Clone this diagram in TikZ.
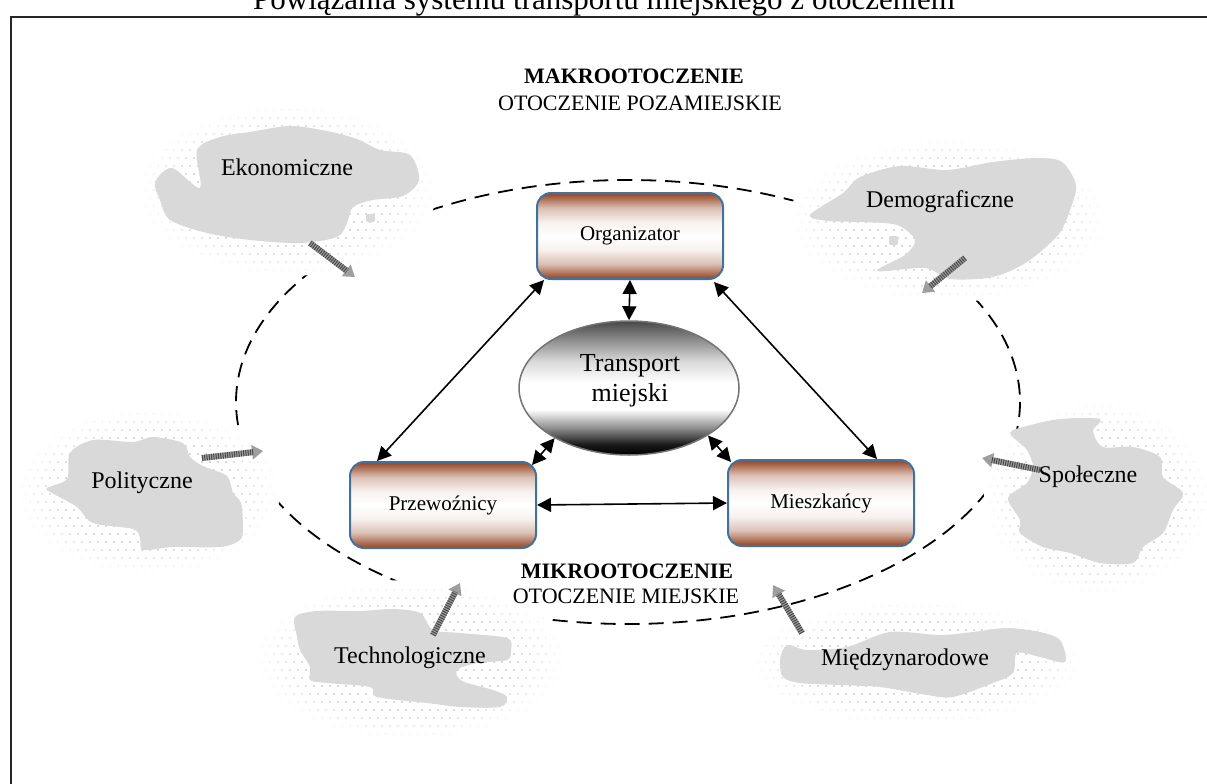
\documentclass[tikz,border=0pt]{standalone}
\usepackage{fontspec}
\setmainfont{Liberation Serif}
\usetikzlibrary{arrows.meta,calc,patterns,fadings,shapes.geometric}

\definecolor{boxbrown}{RGB}{155,80,48}
\definecolor{boxblue}{RGB}{65,113,156}
\definecolor{cloudgray}{RGB}{217,217,217}
\definecolor{dotgray}{RGB}{182,182,182}

% brown - white - brown band for the actor boxes
\pgfdeclareverticalshading{boxshade}{100bp}{color(0bp)=(boxbrown); color(26bp)=(boxbrown);
  color(34bp)=(boxbrown!35!white); color(42bp)=(boxbrown!8!white); color(50bp)=(white);
  color(58bp)=(boxbrown!8!white); color(66bp)=(boxbrown!35!white); color(74bp)=(boxbrown);
  color(100bp)=(boxbrown)}
% dark bottom, white middle, grey top for the central oval
\pgfdeclareverticalshading{ovalshade}{100bp}{color(0bp)=(black); color(25bp)=(black);
  color(29bp)=(black!90); color(35bp)=(black!45); color(42bp)=(white); color(52bp)=(white);
  color(60bp)=(black!15); color(68bp)=(black!45); color(75bp)=(black!72); color(100bp)=(black!72)}
% staggered dot texture around the environment clouds
\pgfdeclarepatternformonly{halodots}{\pgfpoint{-1pt}{-1pt}}{\pgfpoint{9pt}{17pt}}{\pgfpoint{8pt}{16pt}}{%
  \pgfpathcircle{\pgfpoint{2pt}{2pt}}{0.8pt}%
  \pgfpathcircle{\pgfpoint{6pt}{10pt}}{0.8pt}%
  \pgfusepath{fill}}
\pgfdeclareradialshading{halofadeshade}{\pgfpointorigin}{color(0bp)=(pgftransparent!0);
  color(17bp)=(pgftransparent!0); color(25bp)=(pgftransparent!100); color(50bp)=(pgftransparent!100)}
\pgfdeclarefading{halofade}{\pgfuseshading{halofadeshade}}

\begin{document}
\begin{tikzpicture}[x=1pt,y=-1pt,
  actor/.style={draw=boxblue, line width=2pt, rounded corners=14pt, shade, shading=boxshade,
    minimum width=186pt, minimum height=86pt, inner sep=0pt, font=\fontsize{21}{25}\selectfont},
  link/.style={line width=1.6pt, {Triangle[length=14pt,width=14pt]}-{Triangle[length=14pt,width=14pt]}},
  ring/.style={line width=1.8pt, dash pattern=on 15pt off 9pt},
  halo/.style={fill=white, postaction={pattern=halodots, pattern color=dotgray, path fading=halofade}},
  cloud/.style={fill=cloudgray, draw=none},
  cloudtext/.style={font=\fontsize{24}{28}\selectfont, inner sep=0pt},
  envtext/.style={font=\fontsize{22}{26}\selectfont, anchor=base, inner sep=0pt},
  flow/.style={line width=6pt, draw=black!38, -{Triangle[length=11pt,width=14pt]},
    postaction={draw=black!72, line width=6pt, dash pattern=on 1pt off 1.3pt, shorten >=10pt, arrows=-}}]

\useasboundingbox (0,0) rectangle (1207,784);

% heading and outer frame (right and bottom sides run past the page)
\node[font=\fontsize{31}{36}\selectfont, anchor=base, inner sep=0pt] (title) at (604,10)
  {Powiązania systemu transportu miejskiego z otoczeniem};
\draw[line width=2pt, black!85] (11,17) rectangle (1230,810);

% boundary of the urban environment
\draw[ring] (628,402) ellipse [x radius=392, y radius=222];

% dotted surroundings of the environment clouds
\path[halo] (287,190) ellipse [x radius=150, y radius=86];
\path[halo] (948,220) ellipse [x radius=159, y radius=82];
\path[halo] (148,492) ellipse [x radius=132, y radius=84];
\path[halo] (1097,498) ellipse [x radius=113, y radius=97];
\path[halo] (410,660) ellipse [x radius=157, y radius=80];
\path[halo] (915,663) ellipse [x radius=167, y radius=62];

% environment clouds
\fill[cloud] plot[smooth cycle, tension=0.5] coordinates {(155,182) (172,168) (200,188) (197,150)
  (220,137) (250,132) (290,126) (327,131) (357,139) (380,150) (410,155) (419,180) (403,196)
  (373,200) (353,207) (347,223) (337,237) (300,243) (250,240) (207,233) (170,220) (160,200)};
\fill[cloud, rounded corners=2pt] (366,214) rectangle (375,222);

\fill[cloud] plot[smooth cycle, tension=0.5] coordinates {(810,215) (843,193) (860,177) (900,166)
  (947,170) (993,162) (1037,158) (1062,162) (1076,185) (1070,210) (1058,235) (1027,262)
  (993,277) (950,279) (925,268) (877,271) (905,255) (915,240) (897,225) (860,222) (828,221)};
\fill[cloud, rounded corners=2pt] (889,236) rectangle (898,245);

\fill[cloud] plot[smooth cycle, tension=0.5] coordinates {(47,488) (67,479) (70,453) (93,440)
  (133,442) (153,437) (183,443) (190,457) (203,466) (227,476) (233,493) (241,503) (243,527)
  (240,540) (220,547) (173,547) (143,550) (140,538) (133,529) (93,523) (77,507) (52,493)};

\fill[cloud] plot[smooth cycle, tension=0.5] coordinates {(1010,433) (1027,426) (1060,419)
  (1100,419) (1093,431) (1103,447) (1133,447) (1160,457) (1163,477) (1183,493) (1173,510)
  (1163,533) (1143,547) (1133,563) (1100,563) (1070,553) (1043,547) (1020,533) (1020,520)
  (1008,498) (1027,483) (1033,467) (1027,450)};

\fill[cloud] plot[smooth cycle, tension=0.5] coordinates {(295,617) (317,611) (360,611) (393,609)
  (420,613) (433,630) (460,633) (507,638) (511,650) (507,660) (477,663) (457,670) (462,681)
  (493,690) (507,697) (500,707) (460,707) (427,703) (377,697) (370,687) (327,683) (310,680)
  (310,667) (300,650) (297,637)};

\fill[cloud] plot[smooth cycle, tension=0.5] coordinates {(787,645) (807,650) (847,647) (890,632)
  (940,635) (973,632) (1007,628) (1040,632) (1060,640) (1065,662) (1040,657) (1017,653)
  (1013,673) (993,683) (953,697) (927,695) (880,687) (840,685) (800,683) (783,677) (780,660)};

\node[cloudtext] (eko)  at (287,167) {Ekonomiczne};
\node[cloudtext] (demo) at (940,202) {Demograficzne};
\node[cloudtext] (poli) at (142,483) {Polityczne};
\node[cloudtext] (spol) at (1088,477) {Społeczne};
\node[cloudtext] (tech) at (410,658) {Technologiczne};
\node[cloudtext] (miedz) at (905,660) {Międzynarodowe};

% influence of the environment
\coordinate (ekoA) at (310,243);   \coordinate (ekoB) at (355,277);
\coordinate (demoA) at (965,258);  \coordinate (demoB) at (922,293);
\coordinate (poliA) at (202,458);  \coordinate (poliB) at (263,451);
\coordinate (spolA) at (1040,470); \coordinate (spolB) at (982,458);
\coordinate (techA) at (433,635);  \coordinate (techB) at (460,583);
\coordinate (miedzA) at (802,633); \coordinate (miedzB) at (773,585);
\draw[flow] (ekoA) -- (ekoB);
\draw[flow] (demoA) -- (demoB);
\draw[flow] (poliA) -- (poliB);
\draw[flow] (spolA) -- (spolB);
\draw[flow] (techA) -- (techB);
\draw[flow] (miedzA) -- (miedzB);

% environment labels
\node[envtext] (makro) at (634,84) {\textbf{MAKROOTOCZENIE}};
\node[envtext] (pozam) at (640,110) {OTOCZENIE POZAMIEJSKIE};
\node[envtext] (mikro) at (627,578) {\textbf{MIKROOTOCZENIE}};
\node[envtext] (miej)  at (626,603) {OTOCZENIE MIEJSKIE};

% system core
\node[actor] (org) at (630,236) {Organizator};
\node[actor] (prz) at (443,505) {Przewoźnicy};
\node[actor] (mie) at (821,503) {Mieszkańcy};
\node[ellipse, draw=black!55, line width=1.5pt, shade, shading=ovalshade,
  minimum width=220pt, minimum height=134pt] (trans) at (629,388) {};
\node[font=\fontsize{26}{30}\selectfont, align=center, inner sep=0pt] (transL) at (630,381)
  {Transport\\miejski};

% relations
\draw[link] (org.south) -- (trans.north);
\draw[link] ($(org.south west)+(8,0)$) -- ($(prz.north west)+(28,0)$);
\draw[link] ($(org.south east)+(-10,2)$) -- ($(mie.north west)+(150,0)$);
\draw[link] (trans.214) -- ($(prz.north east)+(-5,4)$);
\draw[link] (trans.-31) -- ($(mie.north west)+(4,3)$);
\draw[link] (prz.east) -- (mie.west);
\end{tikzpicture}
\end{document}
